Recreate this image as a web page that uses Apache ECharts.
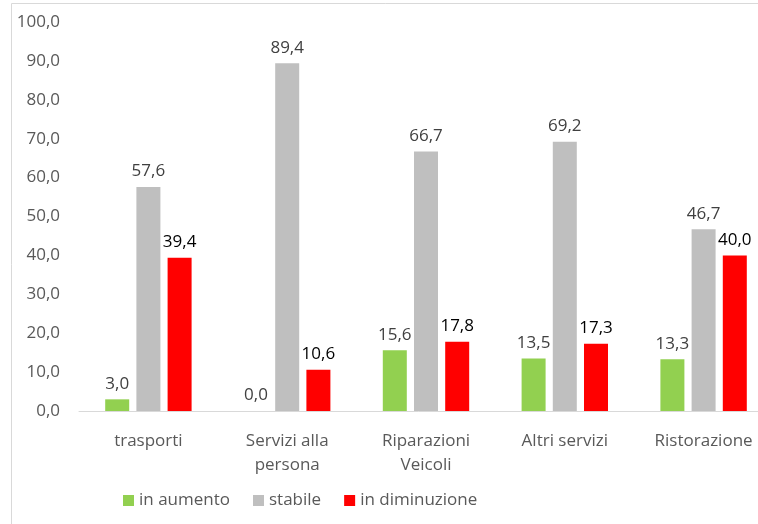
<!DOCTYPE html>
<html><head><meta charset="utf-8">
<script src="https://cdn.jsdelivr.net/npm/echarts@6/dist/echarts.min.js"></script>
<style>html,body{margin:0;padding:0;background:#fff}#c{width:758px;height:524px}</style>
</head><body><div id="c"></div>
<script>
const categories = ['trasporti', 'Servizi alla\npersona', 'Riparazioni\nVeicoli', 'Altri servizi', 'Ristorazione'];
const inAumento = [3.0, 0.0, 15.6, 13.5, 13.3];
const stabile = [57.6, 89.4, 66.7, 69.2, 46.7];
const inDiminuzione = [39.4, 10.6, 17.8, 17.3, 40.0];
const seriesNames = ['in aumento', 'stabile', 'in diminuzione'];

const FONT = 'Open Sans';
const FS = 17;
const fmt = v => Number(v).toFixed(1).replace('.', ',');
const chart = echarts.init(document.getElementById('c'));
function bar(name, data, color, labelColor) {
  return {
    name, type: 'bar', data, barWidth: 24, barGap: '30%',
    itemStyle: { color },
    label: { show: true, position: 'top', distance: 7, color: labelColor,
      fontFamily: FONT, fontSize: FS, formatter: p => fmt(p.value) }
  };
}
chart.setOption({
  animation: false,
  textStyle: { fontFamily: FONT },
  graphic: [{ type: 'rect', shape: { x: 11.5, y: 3.5, width: 900, height: 700 },
    style: { fill: 'none', stroke: '#D9D9D9', lineWidth: 1 }, z: -1 }],
  grid: { left: 79, top: 22, width: 694, height: 389, outerBoundsMode: 'none', containLabel: false },
  legend: { left: 118, top: 487, itemWidth: 11, itemHeight: 11, itemGap: 23,
    icon: 'rect', textStyle: { fontFamily: FONT, fontSize: FS, color: '#595959' },
    data: seriesNames },
  xAxis: { type: 'category', data: categories,
    axisLine: { lineStyle: { color: '#D9D9D9', width: 1 } }, axisTick: { show: false },
    axisLabel: { color: '#595959', fontFamily: FONT, fontSize: FS, margin: 18, lineHeight: 24, interval: 0 } },
  yAxis: { type: 'value', min: 0, max: 100, interval: 10,
    axisLine: { show: false }, axisTick: { show: false }, splitLine: { show: false },
    axisLabel: { color: '#595959', fontFamily: FONT, fontSize: FS, margin: 19, formatter: v => fmt(v) } },
  series: [
    bar(seriesNames[0], inAumento, '#92D050', '#404040'),
    bar(seriesNames[1], stabile, '#BFBFBF', '#404040'),
    bar(seriesNames[2], inDiminuzione, '#FF0000', '#000000')
  ]
});
</script></body></html>
